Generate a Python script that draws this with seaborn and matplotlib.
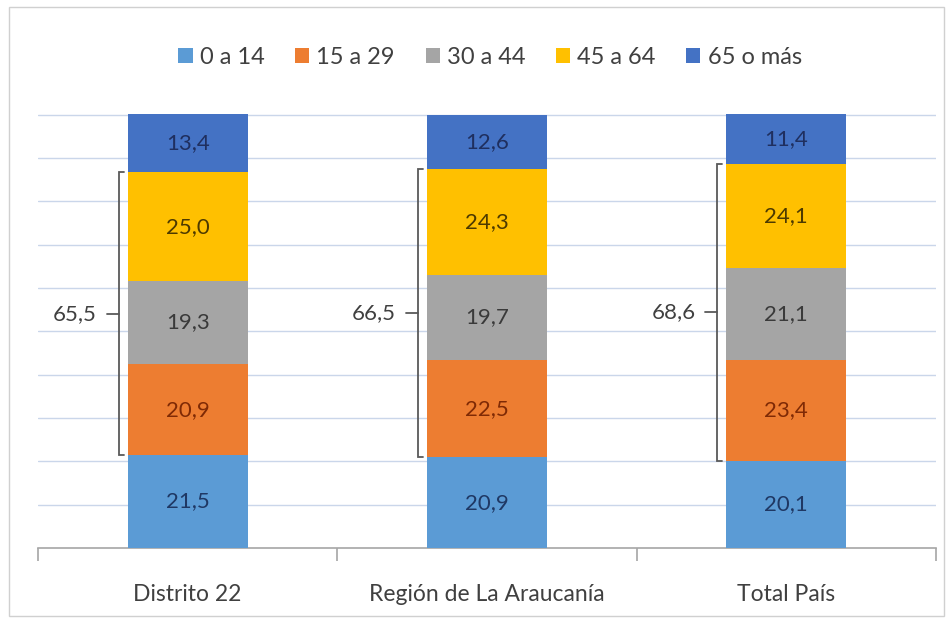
import matplotlib
matplotlib.use("Agg")
import matplotlib.pyplot as plt
import seaborn as sns
import pandas as pd
import numpy as np
from matplotlib.patches import Patch, Rectangle

categories = ["Distrito 22", "Región de La Araucanía", "Total País"]
series_names = ["0 a 14", "15 a 29", "30 a 44", "45 a 64", "65 o más"]
v_0_14 = [21.5, 20.9, 20.1]
v_15_29 = [20.9, 22.5, 23.4]
v_30_44 = [19.3, 19.7, 21.1]
v_45_64 = [25.0, 24.3, 24.1]
v_65 = [13.4, 12.6, 11.4]
bracket_values = ["65,5", "66,5", "68,6"]

colors = ["#5B9BD5", "#ED7D31", "#A5A5A5", "#FFC000", "#4472C4"]
text_colors = ["#1F3864", "#7F2A05", "#3A3A3A", "#4D3A00", "#1F2F5F"]

sns.set_style("white")
plt.rcParams["font.family"] = ["Lato", "DejaVu Sans"]

values = [v_0_14, v_15_29, v_30_44, v_45_64, v_65]
cum = np.cumsum(np.array(values), axis=0)

rows = []
for si, name in enumerate(series_names):
    for ci, cat in enumerate(categories):
        rows.append({"cat": cat, "serie": name, "val": values[si][ci],
                     "top": cum[si][ci], "bottom": cum[si][ci] - values[si][ci]})
df = pd.DataFrame(rows)

fig = plt.figure(figsize=(9.51, 6.21), dpi=100)
ax = fig.add_axes([38/951, 1-548/621, (936-38)/951, (548-114)/621])

# draw cumulative bars from top series to bottom
for si in range(len(series_names) - 1, -1, -1):
    sub = df[df["serie"] == series_names[si]]
    sns.barplot(data=sub, x="cat", y="top", order=categories, color=colors[si],
                width=0.4, ax=ax, saturation=1, linewidth=0, zorder=3)

ax.set_ylim(0, 100.2)
ax.set_xlim(-0.5, 2.5)
ax.set_yticks(np.arange(10, 101, 10))
ax.yaxis.grid(True, color="#CAD6EA", linewidth=1.0, zorder=0)
ax.set_axisbelow(True)
ax.tick_params(axis="y", left=False, labelleft=False)
for s in ["top", "right", "left"]:
    ax.spines[s].set_visible(False)
ax.spines["bottom"].set_color("#A6A6A6")
ax.spines["bottom"].set_linewidth(1.2)
ax.set_xlabel("")
ax.set_ylabel("")
ax.set_xticks([0, 1, 2])
ax.set_xticklabels(categories, fontsize=16.5, color="#404040")
ax.tick_params(axis="x", which="major", length=0, pad=26)
ax.set_xticks([-0.5, 0.5, 1.5, 2.5], minor=True)
ax.tick_params(axis="x", which="minor", bottom=True, direction="out", length=9,
               color="#A6A6A6", width=1.2)

# data labels
for _, r in df.iterrows():
    si = series_names.index(r["serie"])
    ci = categories.index(r["cat"])
    ax.text(ci, (r["top"] + r["bottom"]) / 2, f"{r['val']:.1f}".replace(".", ","),
            ha="center", va="center", fontsize=16, color=text_colors[si], zorder=5)

# brackets
px = 1 / 299.0
for ci in range(3):
    lo = cum[0][ci]
    hi = cum[3][ci]
    xb = ci - 0.2 - 9 * px
    ax.plot([xb + 5 * px, xb, xb, xb + 5 * px], [hi, hi, lo, lo], color="#595959",
            lw=1.3, zorder=6, clip_on=False, solid_joinstyle="miter")
    mid = (lo + hi) / 2
    ax.plot([xb - 12 * px, xb], [mid, mid], color="#595959", lw=1.3, zorder=6, clip_on=False)
    ax.text(xb - 22 * px, mid, bracket_values[ci], ha="right", va="center",
            fontsize=16, color="#404040", zorder=6)

# legend
handles = [Patch(facecolor=c, edgecolor="none") for c in colors]
fig.legend(handles, series_names, loc="center", bbox_to_anchor=(490/951, 1-57/621),
           ncol=5, frameon=False, fontsize=17, handlelength=0.6, handleheight=0.6,
           handletextpad=0.3, columnspacing=1.3, labelcolor="#404040")

# outer border
fig.patches.append(Rectangle((9/951, 5/621), 935/951, 609/621, transform=fig.transFigure,
                             fill=False, edgecolor="#D0D0D0", linewidth=1.0))

fig.savefig("out.png", dpi=100)
